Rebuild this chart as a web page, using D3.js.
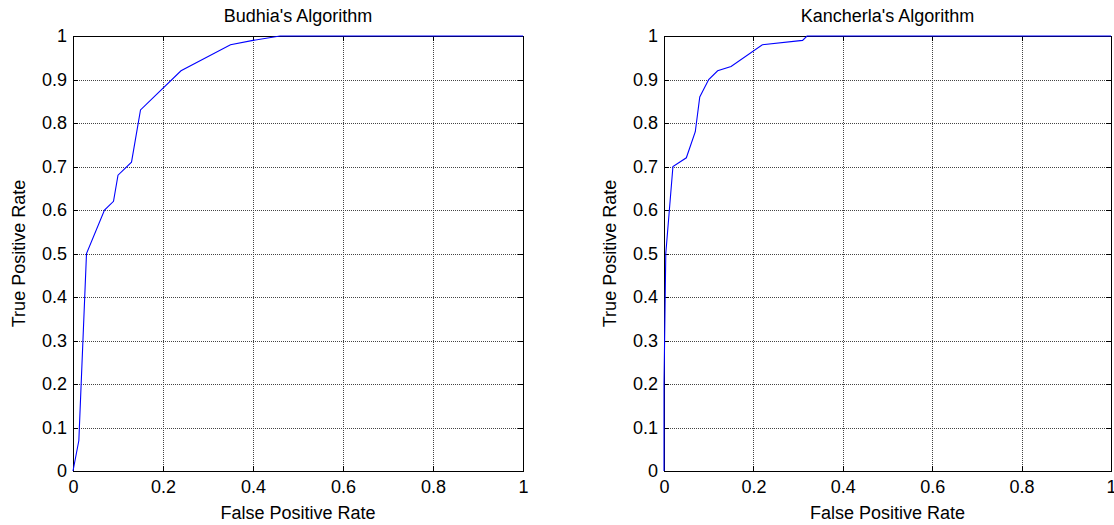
<!DOCTYPE html>
<html>
<head>
<meta charset="utf-8">
<script src="https://cdn.jsdelivr.net/npm/d3@7"></script>
<style>
  body { margin: 0; background: #fff; }
  svg { display: block; font-family: "Liberation Sans", Arial, sans-serif; }
  .grid line { stroke: #444; stroke-dasharray: 1,1; shape-rendering: crispEdges; }
  .grid .domain { display: none; }
  .axis line, .axis path { stroke: #000; shape-rendering: crispEdges; }
  .axis text { font-size: 18px; fill: #000; }
</style>
</head>
<body>
<div id="chart-area"></div>
<script>
// ROC points
let budhiaFpr = [0, 0.013, 0.03, 0.07, 0.09, 0.10, 0.13, 0.15, 0.24, 0.35, 0.40, 0.46, 1];
let budhiaTpr = [0, 0.07, 0.50, 0.60, 0.62, 0.68, 0.71, 0.83, 0.92, 0.98, 0.99, 1, 1];

let kanchFpr = [0, 0, 0.004, 0.02, 0.05, 0.07, 0.08, 0.10, 0.12, 0.15, 0.22, 0.31, 0.32, 1];
let kanchTpr = [0, 0.2, 0.50, 0.70, 0.72, 0.78, 0.86, 0.90, 0.92, 0.93, 0.98, 0.99, 1, 1];

let xTicks = [0, 0.2, 0.4, 0.6, 0.8, 1];
let yTicks = [0, 0.1, 0.2, 0.3, 0.4, 0.5, 0.6, 0.7, 0.8, 0.9, 1];

let titles = ["Budhia's Algorithm", "Kancherla's Algorithm"];
let xLabel = "False Positive Rate";
let yLabel = "True Positive Rate";

let panels = [
  {title: titles[0], fpr: budhiaFpr, tpr: budhiaTpr, left: 73, width: 450},
  {title: titles[1], fpr: kanchFpr, tpr: kanchTpr, left: 664, width: 447}
];

let plotTop = 36, height = 435;

let svg = d3.select("#chart-area")
  .append("svg")
  .attr("width", 1114)
  .attr("height", 525);

svg.append("rect").attr("width", 1114).attr("height", 525).attr("fill", "#fff");

let fmt = d => d === 0 || d === 1 ? String(d) : d3.format(".1f")(d);

panels.forEach(function(p) {
  let width = p.width;
  let g = svg.append("g").attr("transform", "translate(" + p.left + "," + plotTop + ")");

  let x = d3.scaleLinear().domain([0, 1]).range([0, width]);
  let y = d3.scaleLinear().domain([0, 1]).range([height, 0]);

  // grid
  g.append("g").attr("class", "grid")
    .attr("transform", "translate(0," + height + ")")
    .call(d3.axisBottom(x).tickValues(xTicks).tickSize(-height).tickFormat(""));
  g.append("g").attr("class", "grid")
    .call(d3.axisLeft(y).tickValues(yTicks).tickSize(-width).tickFormat(""));

  // axes, ticks inside on all four sides
  g.append("g").attr("class", "axis")
    .attr("transform", "translate(0," + height + ")")
    .call(d3.axisBottom(x).tickValues(xTicks).tickSizeInner(-5).tickSizeOuter(0).tickPadding(9).tickFormat(fmt));
  g.append("g").attr("class", "axis")
    .call(d3.axisLeft(y).tickValues(yTicks).tickSizeInner(-5).tickSizeOuter(0).tickPadding(6).tickFormat(fmt));
  g.append("g").attr("class", "axis")
    .call(d3.axisTop(x).tickValues(xTicks).tickSizeInner(-5).tickSizeOuter(0).tickFormat(""));
  g.append("g").attr("class", "axis")
    .attr("transform", "translate(" + width + ",0)")
    .call(d3.axisRight(y).tickValues(yTicks).tickSizeInner(-5).tickSizeOuter(0).tickFormat(""));

  g.append("rect")
    .attr("width", width).attr("height", height)
    .attr("fill", "none").attr("stroke", "#000")
    .attr("shape-rendering", "crispEdges");

  // curve on top of the box, like the original
  let pts = p.fpr.map(function(f, i) { return [f, p.tpr[i]]; });
  g.append("path")
    .datum(pts)
    .attr("fill", "none")
    .attr("stroke", "#0000ff")
    .attr("stroke-width", 1.1)
    .attr("d", d3.line().x(d => x(d[0])).y(d => y(d[1])));

  // titles and labels
  g.append("text")
    .attr("x", width / 2).attr("y", -14)
    .attr("text-anchor", "middle")
    .style("font-size", "18px")
    .text(p.title);

  g.append("text")
    .attr("x", width / 2).attr("y", height + 48)
    .attr("text-anchor", "middle")
    .style("font-size", "18px")
    .text(xLabel);

  g.append("text")
    .attr("transform", "translate(-48," + (height / 2) + ") rotate(-90)")
    .attr("text-anchor", "middle")
    .style("font-size", "18px")
    .text(yLabel);
});
</script>
</body>
</html>
